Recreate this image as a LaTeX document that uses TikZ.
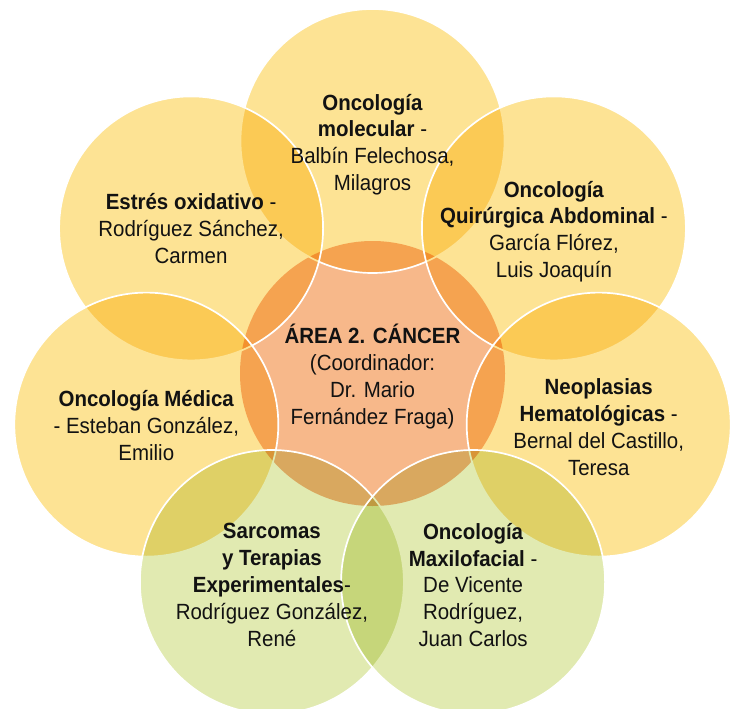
\documentclass[tikz,border=0pt]{standalone}
\usepackage{fontspec}
\setmainfont{Liberation Sans}[FakeStretch=0.93]
\definecolor{ylw}{RGB}{253,227,148}
\definecolor{grn}{RGB}{225,234,177}
\definecolor{slm}{RGB}{247,184,138}
\definecolor{txt}{RGB}{18,18,18}
\tikzset{
  disc/.style={blend mode=multiply},
  rim/.style={draw=white, line width=1.7pt},
  lbl/.style={align=center, text=txt, font=\fontsize{22}{26.8}\selectfont, inner sep=0pt},
}
\begin{document}
\begin{tikzpicture}[x=1pt,y=-1pt]
\useasboundingbox[fill=white] (0,0) rectangle (736,709);
\coordinate (cC) at (372.5,373.5);
\coordinate (cT) at (372.5,141);
\coordinate (cUR) at (553.9,228.4);
\coordinate (cR) at (598.7,424.6);
\coordinate (cBR) at (473.1,582);
\coordinate (cBL) at (271.9,582);
\coordinate (cL) at (146.3,424.6);
\coordinate (cUL) at (191.1,228.4);
% discs
\fill[slm, disc] (cC) circle (132.5pt);
\fill[ylw, disc] (cT) circle (132pt);
\draw[rim] (cT) circle (132pt);
\fill[ylw, disc] (cUR) circle (132pt);
\draw[rim] (cUR) circle (132pt);
\fill[ylw, disc] (cR) circle (132pt);
\draw[rim] (cR) circle (132pt);
\fill[ylw, disc] (cUL) circle (132pt);
\draw[rim] (cUL) circle (132pt);
\fill[ylw, disc] (cL) circle (132pt);
\draw[rim] (cL) circle (132pt);
\fill[grn, disc] (cBL) circle (132pt);
\draw[rim] (cBL) circle (132pt);
\fill[grn, disc] (cBR) circle (132pt);
\draw[rim] (cBR) circle (132pt);
% labels
\node[lbl] (tC) at (372.5,376.5) {\textbf{ÁREA 2. CÁNCER}\\(Coordinador:\\Dr. Mario\\Fernández Fraga)};
\node[lbl] (tT) at (372.5,144.5) {\textbf{Oncología}\\\textbf{molecular} -\\Balbín Felechosa,\\Milagros};
\node[lbl] (tUR) at (553.9,231.5) {\textbf{Oncología}\\\textbf{Quirúrgica Abdominal} -\\García Flórez,\\Luis Joaquín};
\node[lbl] (tR) at (598.7,427) {\textbf{Neoplasias}\\\textbf{Hematológicas} -\\Bernal del Castillo,\\Teresa};
\node[lbl] (tBR) at (473.1,585) {\textbf{Oncología}\\\textbf{Maxilofacial} -\\De Vicente\\Rodríguez,\\Juan Carlos};
\node[lbl] (tBL) at (271.9,585) {\textbf{Sarcomas}\\\textbf{y Terapias}\\\textbf{Experimentales}-\\Rodríguez González,\\René};
\node[lbl] (tL) at (146.3,425.5) {\textbf{Oncología Médica}\\- Esteban González,\\Emilio};
\node[lbl] (tUL) at (191.1,228.5) {\textbf{Estrés oxidativo} -\\Rodríguez Sánchez,\\Carmen};
\end{tikzpicture}
\end{document}
